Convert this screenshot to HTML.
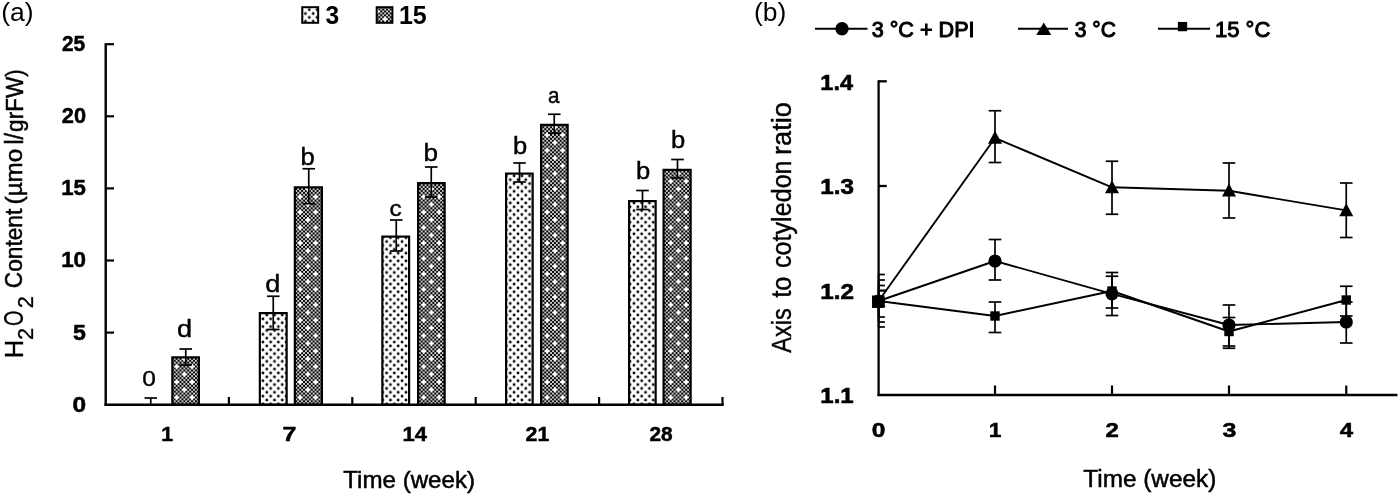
<!DOCTYPE html>
<html><head><meta charset="utf-8"><title>Figure</title>
<style>html,body{margin:0;padding:0;background:#fff}svg{display:block;will-change:transform}text{font-family:'Liberation Sans', sans-serif;fill:#000}</style>
</head><body>
<svg width="1400" height="497" viewBox="0 0 1400 497">
<rect width="1400" height="497" fill="#fff"/>
<defs>
<pattern id="pd" patternUnits="userSpaceOnUse" width="15.440" height="15.440" patternTransform="translate(3.9 8.55)"><rect width="15.440" height="15.440" fill="#000"/><rect x="0.105" y="2.035" width="1.720" height="1.720" fill="#fff"/><rect x="0.105" y="5.895" width="1.720" height="1.720" fill="#fff"/><rect x="0.105" y="9.755" width="1.720" height="1.720" fill="#fff"/><rect x="0.105" y="13.615" width="1.720" height="1.720" fill="#fff"/><rect x="2.035" y="0.105" width="1.720" height="1.720" fill="#fff"/><rect x="1.930" y="1.930" width="1.930" height="1.930" fill="#fff"/><rect x="2.035" y="3.965" width="1.720" height="1.720" fill="#fff"/><rect x="2.035" y="7.825" width="1.720" height="1.720" fill="#fff"/><rect x="2.035" y="11.685" width="1.720" height="1.720" fill="#fff"/><rect x="3.965" y="2.035" width="1.720" height="1.720" fill="#fff"/><rect x="3.965" y="5.895" width="1.720" height="1.720" fill="#fff"/><rect x="3.965" y="9.755" width="1.720" height="1.720" fill="#fff"/><rect x="3.965" y="13.615" width="1.720" height="1.720" fill="#fff"/><rect x="5.895" y="0.105" width="1.720" height="1.720" fill="#fff"/><rect x="5.895" y="3.965" width="1.720" height="1.720" fill="#fff"/><rect x="5.895" y="7.825" width="1.720" height="1.720" fill="#fff"/><rect x="5.895" y="11.685" width="1.720" height="1.720" fill="#fff"/><rect x="7.825" y="2.035" width="1.720" height="1.720" fill="#fff"/><rect x="7.825" y="5.895" width="1.720" height="1.720" fill="#fff"/><rect x="7.825" y="9.755" width="1.720" height="1.720" fill="#fff"/><rect x="7.825" y="13.615" width="1.720" height="1.720" fill="#fff"/><rect x="9.755" y="0.105" width="1.720" height="1.720" fill="#fff"/><rect x="9.755" y="3.965" width="1.720" height="1.720" fill="#fff"/><rect x="9.755" y="7.825" width="1.720" height="1.720" fill="#fff"/><rect x="9.650" y="9.650" width="1.930" height="1.930" fill="#fff"/><rect x="9.755" y="11.685" width="1.720" height="1.720" fill="#fff"/><rect x="11.685" y="2.035" width="1.720" height="1.720" fill="#fff"/><rect x="11.685" y="5.895" width="1.720" height="1.720" fill="#fff"/><rect x="11.685" y="9.755" width="1.720" height="1.720" fill="#fff"/><rect x="11.685" y="13.615" width="1.720" height="1.720" fill="#fff"/><rect x="13.615" y="0.105" width="1.720" height="1.720" fill="#fff"/><rect x="13.615" y="3.965" width="1.720" height="1.720" fill="#fff"/><rect x="13.615" y="7.825" width="1.720" height="1.720" fill="#fff"/><rect x="13.615" y="11.685" width="1.720" height="1.720" fill="#fff"/><polygon points="2.895,0.095 5.695,2.895 2.895,5.695 0.095,2.895" fill="#fff"/><polygon points="10.615,7.815 13.415,10.615 10.615,13.415 7.815,10.615" fill="#fff"/></pattern>
<pattern id="pl" patternUnits="userSpaceOnUse" width="7.73" height="7.73" patternTransform="translate(-3.765 -1.895)"><rect width="7.73" height="7.73" fill="#fff"/><circle cx="3.865" cy="3.865" r="1.4" fill="#000"/><circle cx="0" cy="0" r="1.4"/><circle cx="7.73" cy="0" r="1.4"/><circle cx="0" cy="7.73" r="1.4"/><circle cx="7.73" cy="7.73" r="1.4"/></pattern>
</defs>
<rect x="172.35" y="357.35" width="26.55" height="47.45" fill="url(#pd)" stroke="#000" stroke-width="2.2"/>
<rect x="259.85" y="313.10" width="26.80" height="91.70" fill="url(#pl)" stroke="#000" stroke-width="2.2"/>
<rect x="294.85" y="187.35" width="27.05" height="217.45" fill="url(#pd)" stroke="#000" stroke-width="2.2"/>
<rect x="382.35" y="236.60" width="26.75" height="168.20" fill="url(#pl)" stroke="#000" stroke-width="2.2"/>
<rect x="418.10" y="183.10" width="26.55" height="221.70" fill="url(#pd)" stroke="#000" stroke-width="2.2"/>
<rect x="506.10" y="173.60" width="26.55" height="231.20" fill="url(#pl)" stroke="#000" stroke-width="2.2"/>
<rect x="541.10" y="124.85" width="26.55" height="279.95" fill="url(#pd)" stroke="#000" stroke-width="2.2"/>
<rect x="629.10" y="201.10" width="26.55" height="203.70" fill="url(#pl)" stroke="#000" stroke-width="2.2"/>
<rect x="663.60" y="169.85" width="27.05" height="234.95" fill="url(#pd)" stroke="#000" stroke-width="2.2"/>
<line x1="185.75" y1="349.00" x2="185.75" y2="365.00" stroke="#000" stroke-width="1.7"/>
<line x1="179.45" y1="349.00" x2="192.05" y2="349.00" stroke="#000" stroke-width="1.7"/>
<line x1="179.45" y1="365.00" x2="192.05" y2="365.00" stroke="#000" stroke-width="1.7"/>
<line x1="273.25" y1="296.25" x2="273.25" y2="329.50" stroke="#000" stroke-width="1.7"/>
<line x1="266.95" y1="296.25" x2="279.55" y2="296.25" stroke="#000" stroke-width="1.7"/>
<line x1="266.95" y1="329.50" x2="279.55" y2="329.50" stroke="#000" stroke-width="1.7"/>
<line x1="308.75" y1="168.75" x2="308.75" y2="203.75" stroke="#000" stroke-width="1.7"/>
<line x1="302.45" y1="168.75" x2="315.05" y2="168.75" stroke="#000" stroke-width="1.7"/>
<line x1="302.45" y1="203.75" x2="315.05" y2="203.75" stroke="#000" stroke-width="1.7"/>
<line x1="396.25" y1="220.00" x2="396.25" y2="251.00" stroke="#000" stroke-width="1.7"/>
<line x1="389.95" y1="220.00" x2="402.55" y2="220.00" stroke="#000" stroke-width="1.7"/>
<line x1="389.95" y1="251.00" x2="402.55" y2="251.00" stroke="#000" stroke-width="1.7"/>
<line x1="431.25" y1="167.00" x2="431.25" y2="197.00" stroke="#000" stroke-width="1.7"/>
<line x1="424.95" y1="167.00" x2="437.55" y2="167.00" stroke="#000" stroke-width="1.7"/>
<line x1="424.95" y1="197.00" x2="437.55" y2="197.00" stroke="#000" stroke-width="1.7"/>
<line x1="519.50" y1="163.00" x2="519.50" y2="182.00" stroke="#000" stroke-width="1.7"/>
<line x1="513.20" y1="163.00" x2="525.80" y2="163.00" stroke="#000" stroke-width="1.7"/>
<line x1="513.20" y1="182.00" x2="525.80" y2="182.00" stroke="#000" stroke-width="1.7"/>
<line x1="554.25" y1="114.25" x2="554.25" y2="133.25" stroke="#000" stroke-width="1.7"/>
<line x1="547.95" y1="114.25" x2="560.55" y2="114.25" stroke="#000" stroke-width="1.7"/>
<line x1="547.95" y1="133.25" x2="560.55" y2="133.25" stroke="#000" stroke-width="1.7"/>
<line x1="642.50" y1="190.50" x2="642.50" y2="209.50" stroke="#000" stroke-width="1.7"/>
<line x1="636.20" y1="190.50" x2="648.80" y2="190.50" stroke="#000" stroke-width="1.7"/>
<line x1="636.20" y1="209.50" x2="648.80" y2="209.50" stroke="#000" stroke-width="1.7"/>
<line x1="677.50" y1="159.50" x2="677.50" y2="178.00" stroke="#000" stroke-width="1.7"/>
<line x1="671.20" y1="159.50" x2="683.80" y2="159.50" stroke="#000" stroke-width="1.7"/>
<line x1="671.20" y1="178.00" x2="683.80" y2="178.00" stroke="#000" stroke-width="1.7"/>
<line x1="150.75" y1="398.00" x2="150.75" y2="405.00" stroke="#000" stroke-width="1.7"/>
<line x1="144.50" y1="398.00" x2="157.00" y2="398.00" stroke="#000" stroke-width="1.7"/>
<line x1="105.70" y1="43.20" x2="105.70" y2="406.00" stroke="#000" stroke-width="2.4"/>
<line x1="104.50" y1="404.80" x2="723.70" y2="404.80" stroke="#000" stroke-width="2.4"/>
<line x1="105.70" y1="44.20" x2="114.00" y2="44.20" stroke="#000" stroke-width="2.2"/>
<line x1="105.70" y1="116.30" x2="114.00" y2="116.30" stroke="#000" stroke-width="2.2"/>
<line x1="105.70" y1="188.40" x2="114.00" y2="188.40" stroke="#000" stroke-width="2.2"/>
<line x1="105.70" y1="260.50" x2="114.00" y2="260.50" stroke="#000" stroke-width="2.2"/>
<line x1="105.70" y1="332.60" x2="114.00" y2="332.60" stroke="#000" stroke-width="2.2"/>
<line x1="228.90" y1="397.00" x2="228.90" y2="404.80" stroke="#000" stroke-width="2.2"/>
<line x1="352.30" y1="397.00" x2="352.30" y2="404.80" stroke="#000" stroke-width="2.2"/>
<line x1="475.70" y1="397.00" x2="475.70" y2="404.80" stroke="#000" stroke-width="2.2"/>
<line x1="599.10" y1="397.00" x2="599.10" y2="404.80" stroke="#000" stroke-width="2.2"/>
<line x1="722.50" y1="397.00" x2="722.50" y2="404.80" stroke="#000" stroke-width="2.2"/>
<rect x="302.25" y="7.2" width="15.90" height="15.6" fill="url(#pl)" stroke="#000" stroke-width="2"/>
<rect x="376.70" y="7.2" width="15.70" height="15.6" fill="url(#pd)" stroke="#000" stroke-width="2"/>
<line x1="878.60" y1="80.30" x2="878.60" y2="396.10" stroke="#000" stroke-width="2.3"/>
<line x1="877.45" y1="395.00" x2="1397.50" y2="395.00" stroke="#000" stroke-width="2.3"/>
<line x1="878.60" y1="81.30" x2="886.80" y2="81.30" stroke="#000" stroke-width="2.3"/>
<line x1="878.60" y1="186.00" x2="886.80" y2="186.00" stroke="#000" stroke-width="2.3"/>
<line x1="878.60" y1="290.60" x2="886.80" y2="290.60" stroke="#000" stroke-width="2.3"/>
<line x1="995.00" y1="385.50" x2="995.00" y2="395.00" stroke="#000" stroke-width="2.2"/>
<line x1="1112.00" y1="385.50" x2="1112.00" y2="395.00" stroke="#000" stroke-width="2.2"/>
<line x1="1229.00" y1="385.50" x2="1229.00" y2="395.00" stroke="#000" stroke-width="2.2"/>
<line x1="1346.25" y1="385.50" x2="1346.25" y2="395.00" stroke="#000" stroke-width="2.2"/>
<polyline points="878.60,301.00 995.00,261.00 1112.00,293.80 1229.00,325.00 1346.25,322.00" fill="none" stroke="#000" stroke-width="1.9" stroke-linejoin="round"/>
<line x1="878.60" y1="280.00" x2="878.60" y2="322.00" stroke="#000" stroke-width="1.7"/>
<line x1="878.60" y1="280.00" x2="884.90" y2="280.00" stroke="#000" stroke-width="1.7"/>
<line x1="878.60" y1="322.00" x2="884.90" y2="322.00" stroke="#000" stroke-width="1.7"/>
<line x1="995.00" y1="239.50" x2="995.00" y2="280.00" stroke="#000" stroke-width="1.7"/>
<line x1="988.70" y1="239.50" x2="1001.30" y2="239.50" stroke="#000" stroke-width="1.7"/>
<line x1="988.70" y1="280.00" x2="1001.30" y2="280.00" stroke="#000" stroke-width="1.7"/>
<line x1="1112.00" y1="272.50" x2="1112.00" y2="315.50" stroke="#000" stroke-width="1.7"/>
<line x1="1105.70" y1="272.50" x2="1118.30" y2="272.50" stroke="#000" stroke-width="1.7"/>
<line x1="1105.70" y1="315.50" x2="1118.30" y2="315.50" stroke="#000" stroke-width="1.7"/>
<line x1="1229.00" y1="305.00" x2="1229.00" y2="346.00" stroke="#000" stroke-width="1.7"/>
<line x1="1222.70" y1="305.00" x2="1235.30" y2="305.00" stroke="#000" stroke-width="1.7"/>
<line x1="1222.70" y1="346.00" x2="1235.30" y2="346.00" stroke="#000" stroke-width="1.7"/>
<line x1="1346.25" y1="302.00" x2="1346.25" y2="343.00" stroke="#000" stroke-width="1.7"/>
<line x1="1339.95" y1="302.00" x2="1352.55" y2="302.00" stroke="#000" stroke-width="1.7"/>
<line x1="1339.95" y1="343.00" x2="1352.55" y2="343.00" stroke="#000" stroke-width="1.7"/>
<polyline points="878.60,301.00 995.00,138.00 1112.00,187.30 1229.00,190.70 1346.25,210.40" fill="none" stroke="#000" stroke-width="1.9" stroke-linejoin="round"/>
<line x1="878.60" y1="274.50" x2="878.60" y2="327.00" stroke="#000" stroke-width="1.7"/>
<line x1="878.60" y1="274.50" x2="884.90" y2="274.50" stroke="#000" stroke-width="1.7"/>
<line x1="878.60" y1="327.00" x2="884.90" y2="327.00" stroke="#000" stroke-width="1.7"/>
<line x1="995.00" y1="110.75" x2="995.00" y2="162.50" stroke="#000" stroke-width="1.7"/>
<line x1="988.70" y1="110.75" x2="1001.30" y2="110.75" stroke="#000" stroke-width="1.7"/>
<line x1="988.70" y1="162.50" x2="1001.30" y2="162.50" stroke="#000" stroke-width="1.7"/>
<line x1="1112.00" y1="161.25" x2="1112.00" y2="214.25" stroke="#000" stroke-width="1.7"/>
<line x1="1105.70" y1="161.25" x2="1118.30" y2="161.25" stroke="#000" stroke-width="1.7"/>
<line x1="1105.70" y1="214.25" x2="1118.30" y2="214.25" stroke="#000" stroke-width="1.7"/>
<line x1="1229.00" y1="163.00" x2="1229.00" y2="218.00" stroke="#000" stroke-width="1.7"/>
<line x1="1222.70" y1="163.00" x2="1235.30" y2="163.00" stroke="#000" stroke-width="1.7"/>
<line x1="1222.70" y1="218.00" x2="1235.30" y2="218.00" stroke="#000" stroke-width="1.7"/>
<line x1="1346.25" y1="183.00" x2="1346.25" y2="237.50" stroke="#000" stroke-width="1.7"/>
<line x1="1339.95" y1="183.00" x2="1352.55" y2="183.00" stroke="#000" stroke-width="1.7"/>
<line x1="1339.95" y1="237.50" x2="1352.55" y2="237.50" stroke="#000" stroke-width="1.7"/>
<polyline points="878.60,301.00 995.00,316.00 1112.00,291.00 1229.00,331.50 1346.25,300.00" fill="none" stroke="#000" stroke-width="1.9" stroke-linejoin="round"/>
<line x1="878.60" y1="285.50" x2="878.60" y2="317.00" stroke="#000" stroke-width="1.7"/>
<line x1="878.60" y1="285.50" x2="884.90" y2="285.50" stroke="#000" stroke-width="1.7"/>
<line x1="878.60" y1="317.00" x2="884.90" y2="317.00" stroke="#000" stroke-width="1.7"/>
<line x1="995.00" y1="302.00" x2="995.00" y2="332.50" stroke="#000" stroke-width="1.7"/>
<line x1="988.70" y1="302.00" x2="1001.30" y2="302.00" stroke="#000" stroke-width="1.7"/>
<line x1="988.70" y1="332.50" x2="1001.30" y2="332.50" stroke="#000" stroke-width="1.7"/>
<line x1="1112.00" y1="276.25" x2="1112.00" y2="308.00" stroke="#000" stroke-width="1.7"/>
<line x1="1105.70" y1="276.25" x2="1118.30" y2="276.25" stroke="#000" stroke-width="1.7"/>
<line x1="1105.70" y1="308.00" x2="1118.30" y2="308.00" stroke="#000" stroke-width="1.7"/>
<line x1="1229.00" y1="317.50" x2="1229.00" y2="348.25" stroke="#000" stroke-width="1.7"/>
<line x1="1222.70" y1="317.50" x2="1235.30" y2="317.50" stroke="#000" stroke-width="1.7"/>
<line x1="1222.70" y1="348.25" x2="1235.30" y2="348.25" stroke="#000" stroke-width="1.7"/>
<line x1="1346.25" y1="286.25" x2="1346.25" y2="316.00" stroke="#000" stroke-width="1.7"/>
<line x1="1339.95" y1="286.25" x2="1352.55" y2="286.25" stroke="#000" stroke-width="1.7"/>
<line x1="1339.95" y1="316.00" x2="1352.55" y2="316.00" stroke="#000" stroke-width="1.7"/>
<circle cx="878.60" cy="301.00" r="6.6" fill="#000"/>
<circle cx="995.00" cy="261.00" r="6.6" fill="#000"/>
<circle cx="1112.00" cy="293.80" r="6.6" fill="#000"/>
<circle cx="1229.00" cy="325.00" r="6.6" fill="#000"/>
<circle cx="1346.25" cy="322.00" r="6.6" fill="#000"/>
<polygon points="878.60,293.85 885.60,306.85 871.60,306.85" fill="#000"/>
<polygon points="995.00,130.85 1002.00,143.85 988.00,143.85" fill="#000"/>
<polygon points="1112.00,180.15 1119.00,193.15 1105.00,193.15" fill="#000"/>
<polygon points="1229.00,183.55 1236.00,196.55 1222.00,196.55" fill="#000"/>
<polygon points="1346.25,203.25 1353.25,216.25 1339.25,216.25" fill="#000"/>
<rect x="873.90" y="296.30" width="9.4" height="9.4" fill="#000"/>
<rect x="990.30" y="311.30" width="9.4" height="9.4" fill="#000"/>
<rect x="1107.30" y="286.30" width="9.4" height="9.4" fill="#000"/>
<rect x="1224.30" y="326.80" width="9.4" height="9.4" fill="#000"/>
<rect x="1341.55" y="295.30" width="9.4" height="9.4" fill="#000"/>
<rect x="872.05" y="295.45" width="12.5" height="12.5" fill="#000"/>
<line x1="815.00" y1="28.75" x2="867.50" y2="28.75" stroke="#000" stroke-width="2.1"/>
<circle cx="842.00" cy="28.75" r="6.7" fill="#000"/>
<line x1="1018.00" y1="28.75" x2="1068.00" y2="28.75" stroke="#000" stroke-width="2.1"/>
<polygon points="1043.75,22.52 1051.25,35.02 1036.25,35.02" fill="#000"/>
<line x1="1158.00" y1="28.75" x2="1210.00" y2="28.75" stroke="#000" stroke-width="2.1"/>
<rect x="1177.85" y="21.95" width="9.3" height="9.3" fill="#000"/>
<text transform="translate(1.21 20.94) scale(1.0006 1)" font-size="26.49" font-weight="normal">(a)</text>
<text transform="translate(753.92 20.94) scale(0.9972 1)" font-size="26.49" font-weight="normal">(b)</text>
<text transform="translate(61.88 51.18) scale(0.9604 1)" font-size="21.69" font-weight="bold" stroke="#000" stroke-width="0.5">25</text>
<text transform="translate(61.85 123.28) scale(1.0048 1)" font-size="21.69" font-weight="bold" stroke="#000" stroke-width="0.5">20</text>
<text transform="translate(61.17 195.38) scale(1.0244 1)" font-size="21.69" font-weight="bold" stroke="#000" stroke-width="0.5">15</text>
<text transform="translate(61.15 267.48) scale(1.0345 1)" font-size="21.69" font-weight="bold" stroke="#000" stroke-width="0.5">10</text>
<text transform="translate(73.00 339.58) scale(1.0696 1)" font-size="21.69" font-weight="bold" stroke="#000" stroke-width="0.5">5</text>
<text transform="translate(72.57 411.68) scale(1.1291 1)" font-size="21.69" font-weight="bold" stroke="#000" stroke-width="0.5">0</text>
<text transform="translate(161.22 440.99) scale(1.0139 1)" font-size="20.99" font-weight="bold" stroke="#000" stroke-width="0.5">1</text>
<text transform="translate(282.50 440.99) scale(1.1913 1)" font-size="20.99" font-weight="bold" stroke="#000" stroke-width="0.5">7</text>
<text transform="translate(402.43 440.99) scale(1.0490 1)" font-size="20.99" font-weight="bold" stroke="#000" stroke-width="0.5">14</text>
<text transform="translate(525.61 440.99) scale(1.0151 1)" font-size="20.99" font-weight="bold" stroke="#000" stroke-width="0.5">21</text>
<text transform="translate(649.38 440.99) scale(0.9926 1)" font-size="20.99" font-weight="bold" stroke="#000" stroke-width="0.5">28</text>
<text transform="translate(343.27 487.76) scale(1.0079 1)" font-size="23.93" font-weight="normal" stroke="#000" stroke-width="0.5">Time (week)</text>
<text transform="translate(142.27 386.02) scale(1.0700 1)" font-size="22.89" font-weight="normal" stroke="#000" stroke-width="0.4">0</text>
<text transform="translate(176.91 337.26) scale(1.1171 1)" font-size="24.32" font-weight="normal" stroke="#000" stroke-width="0.4">d</text>
<text transform="translate(265.16 292.26) scale(1.1171 1)" font-size="24.32" font-weight="normal" stroke="#000" stroke-width="0.4">d</text>
<text transform="translate(300.47 164.52) scale(1.0958 1)" font-size="23.31" font-weight="normal" stroke="#000" stroke-width="0.4">b</text>
<text transform="translate(389.52 216.02) scale(1.0750 1)" font-size="22.73" font-weight="normal" stroke="#000" stroke-width="0.4">c</text>
<text transform="translate(423.43 161.01) scale(1.1031 1)" font-size="23.65" font-weight="normal" stroke="#000" stroke-width="0.4">b</text>
<text transform="translate(512.97 153.51) scale(1.0801 1)" font-size="23.65" font-weight="normal" stroke="#000" stroke-width="0.4">b</text>
<text transform="translate(547.92 103.03) scale(0.9475 1)" font-size="21.82" font-weight="normal" stroke="#000" stroke-width="0.4">a</text>
<text transform="translate(635.97 178.51) scale(1.0801 1)" font-size="23.65" font-weight="normal" stroke="#000" stroke-width="0.4">b</text>
<text transform="translate(670.97 147.76) scale(1.0801 1)" font-size="23.65" font-weight="normal" stroke="#000" stroke-width="0.4">b</text>
<text transform="translate(325.41 23.84) scale(0.9597 1)" font-size="25.63" font-weight="bold">3</text>
<text transform="translate(398.90 23.84) scale(0.9633 1)" font-size="26.00" font-weight="bold">15</text>
<text transform="translate(820.29 89.50) scale(1.0478 1)" font-size="22.46" font-weight="bold" stroke="#000" stroke-width="0.6">1.4</text>
<text transform="translate(820.24 194.20) scale(1.0802 1)" font-size="22.46" font-weight="bold" stroke="#000" stroke-width="0.6">1.3</text>
<text transform="translate(820.24 298.80) scale(1.0802 1)" font-size="22.46" font-weight="bold" stroke="#000" stroke-width="0.6">1.2</text>
<text transform="translate(820.26 403.20) scale(1.0720 1)" font-size="22.46" font-weight="bold" stroke="#000" stroke-width="0.6">1.1</text>
<text transform="translate(871.77 437.29) scale(1.1748 1)" font-size="20.85" font-weight="bold" stroke="#000" stroke-width="0.5">0</text>
<text transform="translate(988.63 437.29) scale(1.0973 1)" font-size="20.85" font-weight="bold" stroke="#000" stroke-width="0.5">1</text>
<text transform="translate(1105.53 437.29) scale(1.1504 1)" font-size="20.85" font-weight="bold" stroke="#000" stroke-width="0.5">2</text>
<text transform="translate(1222.50 437.29) scale(1.1993 1)" font-size="20.85" font-weight="bold" stroke="#000" stroke-width="0.5">3</text>
<text transform="translate(1339.76 437.29) scale(1.1557 1)" font-size="20.85" font-weight="bold" stroke="#000" stroke-width="0.5">4</text>
<text transform="translate(1083.26 487.26) scale(1.0026 1)" font-size="24.29" font-weight="normal" stroke="#000" stroke-width="0.5">Time (week)</text>
<text transform="translate(871.65 36.89) scale(1.0097 1)" font-size="21.41" font-weight="normal" stroke="#000" stroke-width="1.0">3 °C + DPI</text>
<text transform="translate(1074.67 36.89) scale(0.9841 1)" font-size="21.41" font-weight="normal" stroke="#000" stroke-width="1.0">3 °C</text>
<text transform="translate(1214.95 36.88) scale(1.0166 1)" font-size="21.71" font-weight="normal" stroke="#000" stroke-width="1.0">15 °C</text>
<text transform="translate(23.20 358.14) rotate(-90) scale(0.9698 1)" font-size="26.23" font-weight="normal" stroke="#000" stroke-width="0.3">H</text>
<text transform="translate(32.60 339.99) rotate(-90) scale(0.9881 1)" font-size="22.00" font-weight="normal" stroke="#000" stroke-width="0.3">2</text>
<text transform="translate(23.23 326.09) rotate(-90) scale(0.7365 1)" font-size="26.76" font-weight="normal" stroke="#000" stroke-width="0.3">O</text>
<text transform="translate(32.60 308.29) rotate(-90) scale(0.9881 1)" font-size="22.00" font-weight="normal" stroke="#000" stroke-width="0.3">2</text>
<text transform="translate(22.37 288.13) rotate(-90) scale(0.9694 1)" font-size="23.38" font-weight="normal" stroke="#000" stroke-width="0.5">Content</text>
<text transform="translate(21.82 204.46) rotate(-90) scale(1.0241 1)" font-size="23.72" font-weight="normal" stroke="#000" stroke-width="0.5">(µmo</text>
<text transform="translate(22.60 144.58) rotate(-90) scale(0.9152 1)" font-size="25.21" font-weight="normal" stroke="#000" stroke-width="0.5">l/</text>
<text transform="translate(22.60 131.90) rotate(-90) scale(0.9150 1)" font-size="24.64" font-weight="normal" stroke="#000" stroke-width="0.5">grFW)</text>
<text transform="translate(790.70 352.70) rotate(-90) scale(0.8536 1)" font-size="27.54" font-weight="normal" stroke="#000" stroke-width="0.4">Axis</text>
<text transform="translate(790.70 297.86) rotate(-90) scale(0.9311 1)" font-size="27.54" font-weight="normal" stroke="#000" stroke-width="0.4">to</text>
<text transform="translate(790.70 268.01) rotate(-90) scale(0.9130 1)" font-size="27.54" font-weight="normal" stroke="#000" stroke-width="0.4">cotyledon</text>
<text transform="translate(790.70 154.93) rotate(-90) scale(0.9859 1)" font-size="27.54" font-weight="normal" stroke="#000" stroke-width="0.4">ratio</text>
</svg>
</body></html>
